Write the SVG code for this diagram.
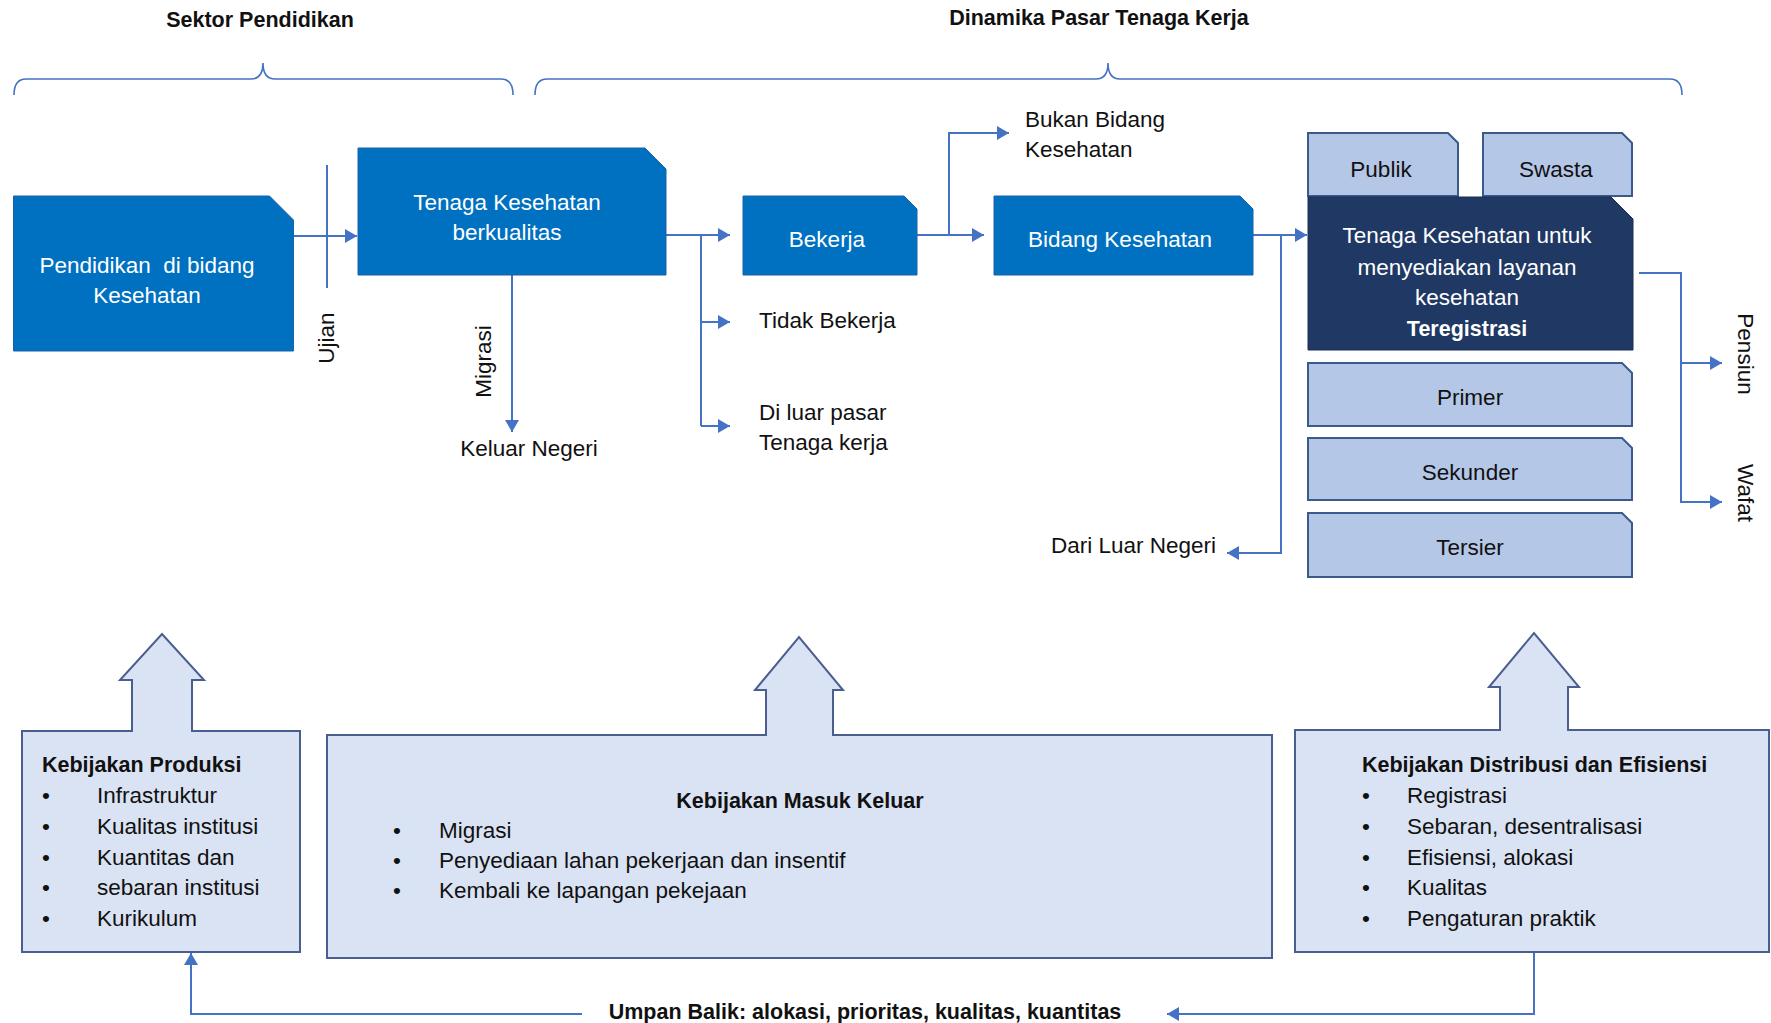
<svg xmlns="http://www.w3.org/2000/svg" width="1771" height="1023" viewBox="0 0 1771 1023">
<defs>
<marker id="ah" markerUnits="userSpaceOnUse" markerWidth="14" markerHeight="16" refX="12" refY="7" orient="auto">
<path d="M0,0 L12,7 L0,14 Z" fill="#4472C4"/>
</marker>
<style>
text{font-family:"Liberation Sans",Arial,sans-serif;font-size:22.5px;fill:#111}
.w{fill:#fff}
.b{font-weight:bold;font-size:21.5px}
.c{text-anchor:middle}
.mid{fill:#0070C0;stroke:#1F60A8;stroke-width:1}
.dark{fill:#203864;stroke:#1A2E55;stroke-width:1}
.lt{fill:#B4C7E7;stroke:#3A5A8C;stroke-width:2}
.pol{fill:#DAE3F3;stroke:#4A5F8F;stroke-width:2}
.cn{fill:none;stroke:#4472C4;stroke-width:2}
.br{fill:none;stroke:#4472C4;stroke-width:1.6}
</style>
</defs>
<rect width="1771" height="1023" fill="#fff"/>

<g id="headers">
<text class="b c" x="260" y="27">Sektor Pendidikan</text>
<text class="b c" x="1099" y="25">Dinamika Pasar Tenaga Kerja</text>
<path class="br" d="M14,95 Q14,79 26,79 H251 Q263,79 263,63 Q263,79 275,79 H501 Q513,79 513,95"/>
<path class="br" d="M535,95 Q535,79 547,79 H1096 Q1108,79 1108,63 Q1108,79 1120,79 H1670 Q1682,79 1682,95"/>
</g>

<g id="connectors">
<path class="cn" d="M293.5,236 H357" marker-end="url(#ah)"/>
<path class="cn" d="M327,165 V288"/>
<path class="cn" d="M512,275 V432" marker-end="url(#ah)"/>
<path class="cn" d="M666,235 H730" marker-end="url(#ah)"/>
<path class="cn" d="M701,235 V426"/>
<path class="cn" d="M701,322 H730" marker-end="url(#ah)"/>
<path class="cn" d="M701,426 H730" marker-end="url(#ah)"/>
<path class="cn" d="M917,235 H984" marker-end="url(#ah)"/>
<path class="cn" d="M949,235 V133 H1009" marker-end="url(#ah)"/>
<path class="cn" d="M1253,235 H1307" marker-end="url(#ah)"/>
<path class="cn" d="M1281,235 V553 H1227" marker-end="url(#ah)"/>
<path class="cn" d="M1639,273 H1681 V502 H1722" marker-end="url(#ah)"/>
<path class="cn" d="M1681,363 H1722" marker-end="url(#ah)"/>
<path class="cn" d="M1534,952 V1014 H1167" marker-end="url(#ah)"/>
<path class="cn" d="M582,1014 H191 V953" marker-end="url(#ah)"/>
</g>

<g id="n-pendidikan">
<path class="mid" d="M13.5,196 H269.5 L293.5,220 V351 H13.5 Z"/>
<text class="w c" x="147" y="273" style="white-space:pre">Pendidikan  di bidang</text>
<text class="w c" x="147" y="303">Kesehatan</text>
</g>
<g id="n-ujian">
<text transform="translate(334,338) rotate(-90)" class="c">Ujian</text>
</g>
<g id="n-tenaga">
<path class="mid" d="M358,148 H645 L666,169 V275 H358 Z"/>
<text class="w c" x="507" y="210">Tenaga Kesehatan</text>
<text class="w c" x="507" y="240">berkualitas</text>
</g>
<g id="n-migrasi">
<text transform="translate(491,361.5) rotate(-90)" class="c">Migrasi</text>
<text class="c" x="529" y="456">Keluar Negeri</text>
</g>
<g id="n-bekerja">
<path class="mid" d="M743,196 H904 L917,209 V275 H743 Z"/>
<text class="w c" x="827" y="247">Bekerja</text>
</g>
<g id="n-tidak">
<text x="759" y="328">Tidak Bekerja</text>
</g>
<g id="n-diluar">
<text x="759" y="420">Di luar pasar</text>
<text x="759" y="450">Tenaga kerja</text>
</g>
<g id="n-bukan">
<text x="1025" y="127">Bukan Bidang</text>
<text x="1025" y="157">Kesehatan</text>
</g>
<g id="n-bidang">
<path class="mid" d="M994,196 H1240 L1253,209 V275 H994 Z"/>
<text class="w c" x="1120" y="247">Bidang Kesehatan</text>
</g>
<g id="n-dari">
<text x="1216" y="553" style="text-anchor:end">Dari Luar Negeri</text>
</g>
<g id="n-publik">
<path class="lt" d="M1308,133 H1448 L1458,143 V196 H1308 Z"/>
<text class="c" x="1381" y="177">Publik</text>
</g>
<g id="n-swasta">
<path class="lt" d="M1483,133 H1622 L1632,143 V196 H1483 Z"/>
<text class="c" x="1556" y="177">Swasta</text>
</g>
<g id="n-layanan">
<path class="dark" d="M1308,197 H1611 L1633,219 V350 H1308 Z"/>
<text class="w c" x="1467" y="243">Tenaga Kesehatan untuk</text>
<text class="w c" x="1467" y="275">menyediakan layanan</text>
<text class="w c" x="1467" y="305">kesehatan</text>
<text class="w c b" x="1467" y="336">Teregistrasi</text>
</g>
<g id="n-primer">
<path class="lt" d="M1308,363 H1622 L1632,373 V426 H1308 Z"/>
<text class="c" x="1470" y="405">Primer</text>
</g>
<g id="n-sekunder">
<path class="lt" d="M1308,438 H1622 L1632,448 V500 H1308 Z"/>
<text class="c" x="1470" y="480">Sekunder</text>
</g>
<g id="n-tersier">
<path class="lt" d="M1308,513 H1622 L1632,523 V577 H1308 Z"/>
<text class="c" x="1470" y="555">Tersier</text>
</g>
<g id="n-pensiun">
<text transform="translate(1738,354) rotate(90)" class="c">Pensiun</text>
</g>
<g id="n-wafat">
<text transform="translate(1738,493) rotate(90)" class="c">Wafat</text>
</g>

<g id="n-produksi">
<path class="pol" d="M22,731 H132 V680 H120 L162,634 L204,680 H192 V731 H300 V952 H22 Z"/>
<text class="b" x="42" y="772">Kebijakan Produksi</text>
<text x="42" y="803">•</text><text x="97" y="803">Infrastruktur</text>
<text x="42" y="834">•</text><text x="97" y="834">Kualitas institusi</text>
<text x="42" y="865">•</text><text x="97" y="865">Kuantitas dan</text>
<text x="42" y="895">•</text><text x="97" y="895">sebaran institusi</text>
<text x="42" y="926">•</text><text x="97" y="926">Kurikulum</text>
</g>
<g id="n-masuk">
<path class="pol" d="M327,735 H766 V690 H755 L799,637 L843,690 H833 V735 H1272 V958 H327 Z"/>
<text class="b c" x="800" y="808">Kebijakan Masuk Keluar</text>
<text x="393" y="838">•</text><text x="439" y="838">Migrasi</text>
<text x="393" y="868">•</text><text x="439" y="868">Penyediaan lahan pekerjaan dan insentif</text>
<text x="393" y="898">•</text><text x="439" y="898">Kembali ke lapangan pekejaan</text>
</g>
<g id="n-distribusi">
<path class="pol" d="M1295,730 H1500 V687 H1489 L1534,633 L1579,687 H1568 V730 H1769 V952 H1295 Z"/>
<text class="b" x="1362" y="772">Kebijakan Distribusi dan Efisiensi</text>
<text x="1362" y="803">•</text><text x="1407" y="803">Registrasi</text>
<text x="1362" y="834">•</text><text x="1407" y="834">Sebaran, desentralisasi</text>
<text x="1362" y="865">•</text><text x="1407" y="865">Efisiensi, alokasi</text>
<text x="1362" y="895">•</text><text x="1407" y="895">Kualitas</text>
<text x="1362" y="926">•</text><text x="1407" y="926">Pengaturan praktik</text>
</g>
<g id="n-umpan">
<text class="b c" x="865" y="1019">Umpan Balik: alokasi, prioritas, kualitas, kuantitas</text>
</g>
</svg>
